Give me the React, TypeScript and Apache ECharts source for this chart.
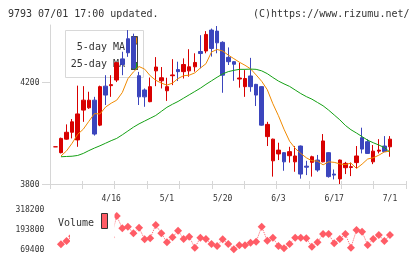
import React, { useEffect, useRef } from 'react';
import * as echarts from 'echarts';

const dates = ['4/2','4/3','4/4','4/5','4/8','4/9','4/10','4/11','4/12','4/15','4/16','4/17','4/18','4/19','4/22','4/23','4/24','4/25','4/26','4/30','5/1','5/2','5/7','5/8','5/9','5/10','5/13','5/14','5/15','5/16','5/20','5/21','5/22','5/23','5/24','5/27','5/28','5/29','5/30','5/31','6/3','6/4','6/5','6/6','6/7','6/10','6/11','6/12','6/13','6/14','6/17','6/18','6/19','6/20','6/21','6/24','6/25','6/26','6/27','6/28','7/1'];
const labeledDates = ['4/16', '5/1', '5/20', '6/3', '6/17', '7/1'];

const openP = [3946,3923,3976,4003,3973,4090,4099,4129,4031,4184,4186,4208,4291,4370,4376,4225,4169,4123,4244,4205,4166,4225,4249,4241,4244,4260,4320,4322,4404,4400,4356,4297,4280,4212,4182,4224,4191,4182,3986,3891,3918,3923,3911,3887,3949,3870,3885,3894,3887,3923,3839,3820,3864,3865,3884,3982,3966,3887,3929,3949,3946];
const closeP = [3946,3979,4003,4044,4075,4129,4129,3996,4182,4149,4190,4276,4269,4315,4255,4142,4142,4182,4259,4217,4182,4228,4241,4269,4260,4277,4312,4387,4332,4354,4227,4280,4270,4216,4214,4182,4149,4031,4034,3976,3933,3887,3927,3910,3839,3866,3907,3855,3969,3829,3835,3894,3881,3868,3910,3937,3920,3929,3933,3927,3976];
const highP = [3946,3982,4034,4055,4186,4184,4162,4142,4186,4227,4227,4278,4319,4404,4390,4240,4175,4218,4298,4259,4217,4290,4280,4293,4329,4313,4384,4400,4410,4420,4360,4336,4282,4276,4247,4295,4193,4184,4044,3978,3962,3925,3946,3949,3951,3891,3911,3914,3996,3925,3857,3896,3887,3884,3949,4021,3976,3953,3976,3988,3988];
const lowP = [3946,3920,3974,3979,3946,4044,4095,3990,4027,4110,4142,4200,4227,4299,4250,4110,4103,4121,4184,4175,4126,4188,4204,4214,4221,4241,4254,4313,4300,4313,4158,4267,4205,4178,4142,4162,4106,4029,3949,3829,3894,3852,3884,3848,3821,3835,3829,3848,3885,3825,3818,3800,3839,3831,3862,3920,3918,3878,3920,3925,3907];

const ma5 = [null,3910,3930,3960,3995,4015,4046,4076,4075,4102,4117,4129,4159,4213,4240,4261,4251,4225,4207,4196,4188,4196,4214,4225,4227,4236,4255,4272,4318,4328,4322,4306,4292,4278,4266,4252,4228,4203,4170,4115,4068,4015,3968,3940,3920,3903,3891,3890,3875,3887,3885,3879,3876,3882,3861,3878,3898,3903,3913,3926,3929];
const ma25 = [null,3907,3908,3909,3912,3920,3931,3941,3950,3960,3970,3979,3993,4008,4023,4036,4047,4058,4069,4085,4101,4113,4124,4137,4150,4163,4176,4191,4205,4219,4232,4241,4246,4250,4250,4251,4250,4244,4233,4218,4204,4193,4183,4169,4155,4143,4133,4120,4107,4090,4071,4052,4030,4013,4000,3986,3972,3962,3953,3943,3925];

const volume = [null,100500,121000,150000,170000,190000,160000,200000,180000,150000,145000,276500,200000,210000,168900,203700,131600,137800,220500,168900,112900,144000,185100,133500,147800,79400,141600,133500,102400,89900,131600,102400,69400,94300,94300,110500,116700,210000,122900,141600,89900,75600,102400,141600,141600,137800,85600,112900,164600,164600,106700,133500,164600,79400,189400,178900,96100,133500,158300,121000,158300];

const priceTicks = [3800, 4200];
const volumeTicks = [69400, 193800, 318200];

const FONT = 'DejaVu Sans Mono';
const RED = '#d80000';
const BLUE = '#3b45bd';
const ORANGE = '#f08a00';
const GREEN = '#14a014';
const VOL = '#ff5c66';
const AXIS = '#d6d6d6';
const TXT = '#333333';

export default function App() {
  const ref = useRef<HTMLDivElement>(null);
  useEffect(() => {
    if (!ref.current) return;
    const chart = echarts.init(ref.current, null, { renderer: 'svg' });
    const candles = openP.map((o, i) => [o, closeP[i], lowP[i], highP[i]]);
    const frameGrid = { left: 50, right: 14, top: 25, bottom: 75 };
    const plotGrid = { left: 52.6, right: 27.25, top: 25, bottom: 75 };
    const volGrid = { left: 52.6, right: 27.25, top: 209.3, bottom: 9.7 };
    const plain = (v: number) => String(v);
    chart.setOption({
      animation: false,
      grid: [frameGrid, plotGrid, volGrid, { ...frameGrid }],
      xAxis: [
        {
          type: 'value', gridIndex: 0, min: 0, max: 11, interval: 1, position: 'bottom',
          axisLine: { show: true, lineStyle: { color: AXIS, width: 1 } },
          axisTick: { show: true, length: 5, lineStyle: { color: AXIS } },
          axisLabel: { show: false }, splitLine: { show: false },
        },
        {
          type: 'category', gridIndex: 1, data: dates, boundaryGap: true,
          axisLine: { show: false }, axisTick: { show: false }, splitLine: { show: false },
          axisLabel: {
            interval: (idx: number, val: string) => labeledDates.includes(val),
            fontFamily: FONT, fontSize: 8, color: TXT, margin: 10,
          },
        },
        {
          type: 'category', gridIndex: 2, data: dates, boundaryGap: true, show: false,
        },
        {
          type: 'value', gridIndex: 3, min: 0, max: 11, interval: 1, position: 'bottom',
          axisLine: { show: false },
          axisTick: { show: true, inside: true, length: 3, lineStyle: { color: AXIS } },
          axisLabel: { show: false }, splitLine: { show: false },
        },
      ],
      yAxis: [
        {
          type: 'value', gridIndex: 0, min: 3800, max: 4424,
          axisLine: { show: true, lineStyle: { color: AXIS } },
          axisTick: { show: true, length: 8, customValues: priceTicks, lineStyle: { color: AXIS } },
          axisLabel: { customValues: priceTicks, formatter: plain, fontFamily: FONT, fontSize: 8, color: TXT, margin: 10.5 },
          splitLine: { show: false },
        },
        { type: 'value', gridIndex: 1, min: 3800, max: 4424, show: false },
        {
          type: 'value', gridIndex: 2, min: 69400, max: 318200,
          axisLine: { show: false }, axisTick: { show: false }, splitLine: { show: false },
          axisLabel: { customValues: volumeTicks, formatter: plain, fontFamily: FONT, fontSize: 8, color: TXT, margin: 8.3 },
        },
        { type: 'value', gridIndex: 3, min: 3800, max: 4424, show: false },
      ],
      series: [
        {
          type: 'candlestick', xAxisIndex: 1, yAxisIndex: 1, data: candles, barWidth: 4,
          itemStyle: { color: RED, color0: BLUE, borderColor: RED, borderColor0: BLUE, borderWidth: 1 },
          z: 3,
        },
        {
          type: 'line', xAxisIndex: 1, yAxisIndex: 1, data: ma5, symbol: 'none',
          lineStyle: { color: ORANGE, width: 1 }, z: 4,
        },
        {
          type: 'line', xAxisIndex: 1, yAxisIndex: 1, data: ma25, symbol: 'none',
          lineStyle: { color: GREEN, width: 1 }, z: 4,
        },
        {
          type: 'line', xAxisIndex: 2, yAxisIndex: 2, data: volume, symbol: 'diamond', symbolSize: 8,
          showSymbol: true, showAllSymbol: true,
          itemStyle: { color: VOL }, lineStyle: { color: VOL, width: 1, type: 'dotted' },
          clip: false, z: 3,
        },
      ],
      graphic: [
        { type: 'text', x: 8, y: 13, z: 10, style: { text: '9793 07/01 17:00 updated.', font: `10px "${FONT}"`, fill: TXT, align: 'left', verticalAlign: 'middle' } },
        { type: 'text', x: 409.5, y: 13, z: 10, style: { text: '(C)https://www.rizumu.net/', font: `10px "${FONT}"`, fill: TXT, align: 'right', verticalAlign: 'middle' } },
        { type: 'rect', z: 0, shape: { x: 65.5, y: 30.5, width: 78, height: 47 }, style: { fill: '#ffffff', stroke: '#d8d8d8', lineWidth: 1 } },
        { type: 'text', x: 125, y: 46.5, z: 1, style: { text: '5-day MA', font: `10px "${FONT}"`, fill: TXT, align: 'right', verticalAlign: 'middle' } },
        { type: 'text', x: 125, y: 63.5, z: 1, style: { text: '25-day MA', font: `10px "${FONT}"`, fill: TXT, align: 'right', verticalAlign: 'middle' } },
        { type: 'rect', z: 1, shape: { x: 131.5, y: 36.5, width: 6, height: 33 }, style: { fill: 'none', stroke: '#444', lineWidth: 1 } },
        { type: 'rect', z: 1, shape: { x: 131.5, y: 37, width: 6, height: 7 }, style: { fill: ORANGE, stroke: '#444', lineWidth: 1 } },
        { type: 'rect', z: 1, shape: { x: 131.5, y: 62.5, width: 6, height: 7 }, style: { fill: GREEN, stroke: '#444', lineWidth: 1 } },
        { type: 'rect', z: 20, shape: { x: 70, y: 203, width: 44.5, height: 48 }, style: { fill: '#ffffff' } },
        { type: 'text', x: 58, y: 222.5, z: 21, style: { text: 'Volume', font: `10px "${FONT}"`, fill: TXT, align: 'left', verticalAlign: 'middle' } },
        { type: 'rect', z: 21, shape: { x: 101.5, y: 213.5, width: 6, height: 15 }, style: { fill: VOL, stroke: '#333', lineWidth: 1 } },
      ],
    });
    return () => chart.dispose();
  }, []);
  return <div ref={ref} style={{ position: 'fixed', left: 0, top: 0, width: 420, height: 259 }} />;
}
